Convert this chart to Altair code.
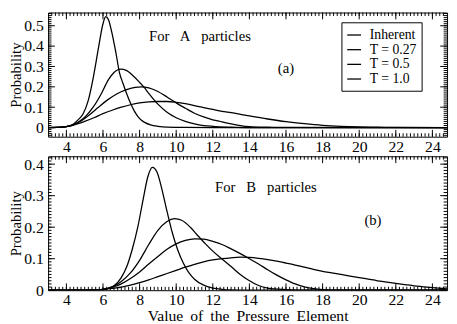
import altair as alt
import pandas as pd

FONT = "Liberation Serif"
SERIES = ["Inherent", "T = 0.27", "T = 0.5", "T = 1.0"]
X_DOMAIN = [3, 24.8]
YA_DOMAIN = [-0.045, 0.565]
YB_DOMAIN = [0, 0.425]
X_LABELS = [4, 6, 8, 10, 12, 14, 16, 18, 20, 22, 24]
YA_LABELS = [0, 0.1, 0.2, 0.3, 0.4, 0.5]
YB_LABELS = [0, 0.1, 0.2, 0.3, 0.4]

# ---- panel (a): A particles ----
a_inh_x = [3, 3.5, 4, 4.3, 4.6, 4.9, 5.2, 5.5, 5.75, 6.0, 6.15, 6.3, 6.5, 6.7, 6.9, 7.1, 7.3, 7.5, 7.7, 7.9, 8.1, 8.3, 8.6, 9.0, 9.5, 10.5, 12, 24.8]
a_inh_y = [0, 0.001, 0.005, 0.012, 0.035, 0.065, 0.135, 0.26, 0.39, 0.51, 0.545, 0.53, 0.46, 0.37, 0.27, 0.215, 0.165, 0.12, 0.083, 0.055, 0.036, 0.024, 0.013, 0.006, 0.002, 0.0005, 0, 0]
a_t027_x = [3, 3.5, 4, 4.3, 4.7, 5.1, 5.5, 5.9, 6.3, 6.6, 6.95, 7.3, 7.6, 8.0, 8.25, 8.5, 9.0, 9.5, 10, 10.5, 11, 11.5, 12, 13, 14, 24.8]
a_t027_y = [0, 0.001, 0.005, 0.012, 0.03, 0.06, 0.105, 0.165, 0.235, 0.27, 0.287, 0.28, 0.258, 0.222, 0.197, 0.168, 0.115, 0.075, 0.048, 0.03, 0.018, 0.01, 0.006, 0.002, 0, 0]
a_t05_x = [3, 3.5, 4, 4.3, 4.75, 5.25, 5.75, 6.25, 6.75, 7.25, 7.75, 8.1, 8.5, 9, 9.5, 10, 10.5, 11, 11.5, 12, 12.5, 13, 13.5, 14, 15, 16, 24.8]
a_t05_y = [0, 0.001, 0.005, 0.011, 0.03, 0.062, 0.1, 0.136, 0.165, 0.185, 0.197, 0.2, 0.195, 0.177, 0.15, 0.121, 0.095, 0.07, 0.052, 0.038, 0.028, 0.018, 0.01, 0.005, 0.002, 0.0005, 0]
a_t10_x = [3, 3.5, 4, 4.3, 5, 5.5, 6, 6.5, 7, 7.5, 8, 8.5, 9, 9.5, 10, 10.5, 11, 11.5, 12, 12.5, 13, 14, 15, 16, 17, 18, 19, 20, 21, 22, 24.8]
a_t10_y = [0, 0.001, 0.005, 0.01, 0.03, 0.048, 0.068, 0.085, 0.1, 0.112, 0.121, 0.126, 0.128, 0.128, 0.124, 0.117, 0.108, 0.098, 0.089, 0.08, 0.073, 0.057, 0.042, 0.029, 0.019, 0.011, 0.006, 0.003, 0.0015, 0.0005, 0]

# ---- panel (b): B particles ----
b_inh_x = [3, 5, 6, 6.3, 6.6, 7.0, 7.3, 7.6, 7.9, 8.2, 8.45, 8.7, 8.95, 9.2, 9.5, 9.8, 10.1, 10.4, 10.7, 11.0, 11.5, 12, 12.5, 13, 14, 24.8]
b_inh_y = [0, 0, 0.002, 0.006, 0.014, 0.04, 0.075, 0.13, 0.2, 0.29, 0.36, 0.39, 0.375, 0.325, 0.25, 0.18, 0.125, 0.085, 0.055, 0.035, 0.016, 0.007, 0.003, 0.001, 0, 0]
b_t027_x = [3, 5.5, 6.2, 6.6, 7, 7.5, 8, 8.5, 9, 9.5, 9.9, 10.3, 10.8, 11.2, 11.6, 12, 12.5, 13, 13.5, 14, 14.5, 15, 16, 17, 24.8]
b_t027_y = [0, 0, 0.005, 0.013, 0.028, 0.055, 0.095, 0.145, 0.19, 0.218, 0.227, 0.222, 0.198, 0.172, 0.147, 0.124, 0.099, 0.075, 0.05, 0.03, 0.015, 0.007, 0.002, 0, 0]
b_t05_x = [3, 5.5, 6.2, 6.6, 7, 7.5, 8, 8.5, 9, 9.5, 10, 10.5, 11, 11.5, 12, 12.5, 13, 13.5, 14, 14.5, 15, 15.5, 16, 16.5, 17, 17.5, 18, 19, 24.8]
b_t05_y = [0, 0, 0.005, 0.011, 0.02, 0.037, 0.058, 0.083, 0.107, 0.13, 0.147, 0.158, 0.163, 0.162, 0.155, 0.145, 0.131, 0.116, 0.1, 0.083, 0.065, 0.048, 0.033, 0.02, 0.011, 0.005, 0.002, 0, 0]
b_t10_x = [3, 5.5, 6.2, 7, 7.5, 8, 8.5, 9, 9.5, 10, 10.5, 11, 11.5, 12, 12.5, 13, 13.5, 14, 14.5, 15, 15.5, 16, 16.5, 17, 17.5, 18, 18.5, 19, 19.5, 20, 20.5, 21, 21.5, 22, 22.5, 23, 23.5, 24, 24.8]
b_t10_y = [0, 0, 0.004, 0.01, 0.016, 0.024, 0.033, 0.043, 0.053, 0.063, 0.073, 0.082, 0.09, 0.096, 0.1, 0.103, 0.105, 0.104, 0.101, 0.097, 0.092, 0.086, 0.08, 0.073, 0.066, 0.06, 0.055, 0.05, 0.045, 0.04, 0.035, 0.03, 0.026, 0.022, 0.018, 0.014, 0.011, 0.008, 0.004]

W = 408
H1 = 127
H2 = 137
MAJ = 7
MIN = 3.5


def long_df(pairs):
    rows = []
    for name, xs, ys in pairs:
        for xv, yv in zip(xs, ys):
            rows.append({"x": xv, "y": yv, "series": name})
    return pd.DataFrame(rows)


df_a = long_df([(SERIES[0], a_inh_x, a_inh_y), (SERIES[1], a_t027_x, a_t027_y),
                (SERIES[2], a_t05_x, a_t05_y), (SERIES[3], a_t10_x, a_t10_y)])
df_b = long_df([(SERIES[0], b_inh_x, b_inh_y), (SERIES[1], b_t027_x, b_t027_y),
                (SERIES[2], b_t05_x, b_t05_y), (SERIES[3], b_t10_x, b_t10_y)])

x_minor = [round(3 + 0.2 * i, 2) for i in range(1, 109)]


def y_minor(lo, hi):
    out = []
    k = int(round(lo * 100))
    while k / 100 <= hi:
        if k / 100 > lo:
            out.append(round(k / 100, 2))
        k += 1
    return out


legend = alt.Legend(title=None, orient="none", legendX=300, legendY=10,
                    symbolType="stroke", symbolStrokeWidth=1.3, symbolSize=200,
                    labelFont=FONT, labelFontSize=14, labelFontWeight="normal",
                    labelColor="black",
                    strokeColor="black", fillColor="white", padding=5,
                    rowPadding=0, labelOffset=8)
color = alt.Color("series:N", scale=alt.Scale(domain=SERIES, range=["black"] * 4),
                  legend=legend)


def panel(df, ydom, ylabels, H, show_title, ann):
    xscale = alt.Scale(domain=X_DOMAIN, nice=False, zero=False)
    yscale = alt.Scale(domain=ydom, nice=False, zero=False)
    xaxis = alt.Axis(values=X_LABELS, format="d", ticks=False, domain=False, grid=False,
                     labelPadding=2, labelOverlap=False,
                     labelFont=FONT, labelFontSize=16, labelColor="black",
                     titleFont=FONT, titleFontSize=16, titleFontWeight="normal", titleColor="black",
                     title="Value\u2009 of\u2009 the\u2009 Pressure\u2009 Element" if show_title else None,
                     titlePadding=0)
    yaxis = alt.Axis(values=ylabels, format=".1~f", ticks=False, domain=False, grid=False,
                     labelPadding=5, labelOverlap=False,
                     labelFont=FONT, labelFontSize=16, labelColor="black",
                     titleFont=FONT, titleFontSize=15, titleFontWeight="normal", titleColor="black",
                     title="Probability", titlePadding=0)
    X = lambda: alt.X("x:Q", scale=xscale, axis=xaxis)
    Y = lambda: alt.Y("y:Q", scale=yscale, axis=yaxis)
    xlo, xhi = X_DOMAIN
    ylo, yhi = ydom
    fx = lambda px: (xhi - xlo) * px / W
    fy = lambda px: (yhi - ylo) * px / H

    lines = alt.Chart(df).mark_line(strokeWidth=1.3, interpolate="monotone", clip=True).encode(
        x=X(), y=Y(), color=color)

    layers = [lines]
    ymin = y_minor(ylo, yhi)
    for vals, L in [(X_LABELS, MAJ), (x_minor, MIN)]:
        d = pd.DataFrame({"x": vals})
        layers.append(alt.Chart(d).mark_rule(color="black", strokeWidth=1).encode(
            x=X(), y=alt.Y(datum=ylo, scale=yscale, axis=yaxis),
            y2=alt.Y2(datum=ylo + fy(L))))
        layers.append(alt.Chart(d).mark_rule(color="black", strokeWidth=1).encode(
            x=X(), y=alt.Y(datum=yhi, scale=yscale, axis=yaxis),
            y2=alt.Y2(datum=yhi - fy(L))))
    for vals, L in [(ylabels, MAJ), (ymin, MIN)]:
        d = pd.DataFrame({"y": vals})
        layers.append(alt.Chart(d).mark_rule(color="black", strokeWidth=1).encode(
            y=Y(), x=alt.X(datum=xlo, scale=xscale, axis=xaxis),
            x2=alt.X2(datum=xlo + fx(L))))
        layers.append(alt.Chart(d).mark_rule(color="black", strokeWidth=1).encode(
            y=Y(), x=alt.X(datum=xhi, scale=xscale, axis=xaxis),
            x2=alt.X2(datum=xhi - fx(L))))
    one = pd.DataFrame({"k": [0]})
    for txt, ax, ay in ann:
        layers.append(alt.Chart(one).mark_text(font=FONT, fontSize=15, color="black",
                                                align="center", baseline="middle").encode(
            x=alt.X(datum=ax, scale=xscale, axis=xaxis),
            y=alt.Y(datum=ay, scale=yscale, axis=yaxis),
            text=alt.value(txt)))
    return alt.layer(*layers).properties(width=W, height=H)


top = panel(df_a, YA_DOMAIN, YA_LABELS, H1, False,
            [("For\u00a0\u00a0 A\u00a0\u00a0 particles", 11.3, 0.448), ("(a)", 16.0, 0.294)])
bottom = panel(df_b, YB_DOMAIN, YB_LABELS, H2, True,
               [("For\u00a0\u00a0 B\u00a0\u00a0 particles", 14.9, 0.327), ("(b)", 20.75, 0.221)])

chart = alt.vconcat(top, bottom, spacing=0).properties(
    padding={"left": 0, "top": 0, "right": 1, "bottom": 0},
    background="white"
).configure_view(stroke="black", strokeWidth=1)

chart.save("out.html", embed_options={"renderer": "svg", "actions": False})
